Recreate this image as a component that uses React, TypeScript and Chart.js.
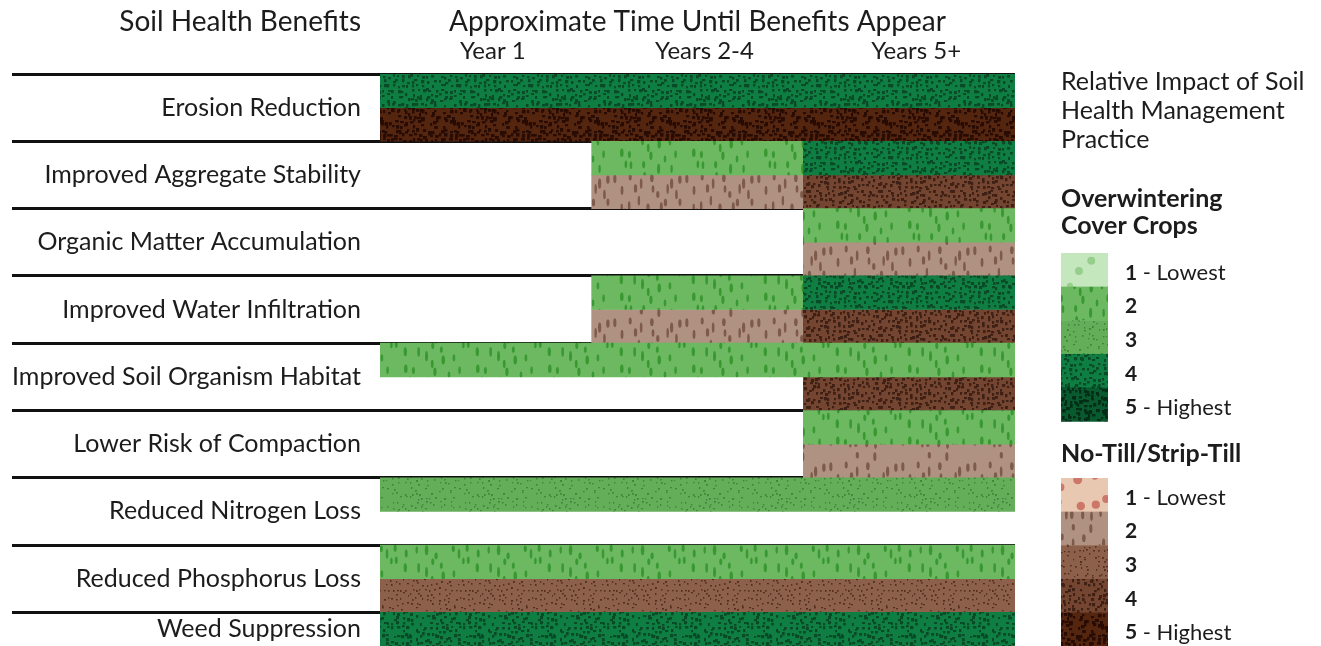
import React, { useEffect, useRef } from 'react';
import { Chart, registerables } from 'chart.js';

Chart.register(...registerables);

// ---------- data ----------
const categories = [
  'Erosion Reduction',
  'Improved Aggregate Stability',
  'Organic Matter Accumulation',
  'Improved Water Infiltration',
  'Improved Soil Organism Habitat',
  'Lower Risk of Compaction',
  'Reduced Nitrogen Loss',
  'Reduced Phosphorus Loss',
  'Weed Suppression',
];
const periods = ['Year 1', 'Years 2-4', 'Years 5+'];
const impactLabels = ['1', '2', '3', '4', '5'];
const impactNotes = [' - Lowest', '', '', '', ' - Highest'];

// [category index, start period, end period (exclusive), impact level 1-5]
const coverCropSegments: number[][] = [
  [0, 0, 3, 4],
  [1, 1, 2, 2], [1, 2, 3, 4],
  [2, 2, 3, 2],
  [3, 1, 2, 2], [3, 2, 3, 4],
  [4, 0, 3, 2],
  [5, 2, 3, 2],
  [6, 0, 3, 3],
  [7, 0, 3, 2],
  [8, 0, 3, 4],
];
const noTillSegments: number[][] = [
  [0, 0, 3, 5],
  [1, 1, 2, 2], [1, 2, 3, 4],
  [2, 2, 3, 2],
  [3, 1, 2, 2], [3, 2, 3, 4],
  [4, 2, 3, 4],
  [5, 2, 3, 2],
  [7, 0, 3, 3],
];

const leftHeading = 'Soil Health Benefits';
const xTitle = 'Approximate Time Until Benefits Appear';
const legendIntro = ['Relative Impact of Soil', 'Health Management', 'Practice'];
const coverCropTitle = ['Overwintering', 'Cover Crops'];
const noTillTitle = ['No-Till/Strip-Till'];

// ---------- styles ----------
const FONT = 'Lato, "Open Sans", sans-serif';
const TEXT = '#1c1c1c';

type PStyle = { base: string; mark: string; kind: string };
const greenStyles: PStyle[] = [
  { base: '#c5e7be', mark: '#95cf8b', kind: 'blob' },
  { base: '#6cb962', mark: '#3a9832', kind: 'dash' },
  { base: '#64ae5a', mark: '#3d8838', kind: 'fine' },
  { base: '#0e7e42', mark: '#0a4a27', kind: 'dots' },
  { base: '#0a5a2f', mark: '#032d16', kind: 'dense' },
];
const brownStyles: PStyle[] = [
  { base: '#e9c8b1', mark: '#cc7767', kind: 'blob' },
  { base: '#b09282', mark: '#7d5a49', kind: 'dash' },
  { base: '#8c604a', mark: '#55301f', kind: 'fine' },
  { base: '#744530', mark: '#3f2015', kind: 'dots' },
  { base: '#55260f', mark: '#280b03', kind: 'dense' },
];

function rng(seed: number) {
  let s = seed >>> 0;
  return () => {
    s = (s + 0x6d2b79f5) >>> 0;
    let t = s;
    t = Math.imul(t ^ (t >>> 15), t | 1);
    t ^= t + Math.imul(t ^ (t >>> 7), t | 61);
    return ((t ^ (t >>> 14)) >>> 0) / 4294967296;
  };
}

function makePattern(ctx: CanvasRenderingContext2D, st: PStyle, seed: number): CanvasPattern {
  const S = 72;
  const c = document.createElement('canvas');
  c.width = S;
  c.height = S;
  const g = c.getContext('2d') as CanvasRenderingContext2D;
  g.fillStyle = st.base;
  g.fillRect(0, 0, S, S);
  g.fillStyle = st.mark;
  const r = rng(seed);
  const wrap = (fn: (dx: number, dy: number) => void) => {
    for (const dx of [-S, 0, S]) for (const dy of [-S, 0, S]) fn(dx, dy);
  };
  if (st.kind === 'fine' || st.kind === 'dots' || st.kind === 'dense') {
    const step = st.kind === 'dense' ? 4.5 : 4.8;
    const size = st.kind === 'dense' ? 3.0 : st.kind === 'dots' ? 2.6 : 1.6;
    const skip = st.kind === 'fine' ? 0.25 : 0.1;
    for (let y = 0; y < S - 0.01; y += step) {
      for (let x = 0; x < S - 0.01; x += step) {
        if (r() < skip) continue;
        const px = x + (r() - 0.5) * step * 0.8;
        const py = y + (r() - 0.5) * step * 0.8;
        const w = size * (0.7 + r() * 0.6);
        const h = size * (0.7 + r() * 0.6);
        wrap((dx, dy) => g.fillRect(Math.round(px + dx), Math.round(py + dy), w, h));
      }
    }
  } else if (st.kind === 'dash') {
    for (let y = 0; y < S; y += 12) {
      for (let x = 0; x < S; x += 9) {
        if (r() < 0.3) continue;
        const px = x + r() * 7;
        const py = y + r() * 8;
        const rx = 1.2 + r() * 0.6;
        const ry = 3.2 + r() * 2;
        wrap((dx, dy) => {
          g.beginPath();
          g.ellipse(px + dx, py + dy, rx, ry, 0, 0, Math.PI * 2);
          g.fill();
        });
      }
    }
  } else {
    for (let y = 0; y < S; y += 18) {
      for (let x = 0; x < S; x += 18) {
        if (r() < 0.2) continue;
        const px = x + r() * 12;
        const py = y + r() * 12;
        const rad = 2.8 + r() * 1.8;
        wrap((dx, dy) => {
          g.beginPath();
          g.arc(px + dx, py + dy, rad, 0, Math.PI * 2);
          g.fill();
        });
      }
    }
  }
  return ctx.createPattern(c, 'repeat') as CanvasPattern;
}

export default function App() {
  const ref = useRef<HTMLCanvasElement | null>(null);

  useEffect(() => {
    document.body.style.overflow = 'hidden';
    const canvas = ref.current;
    if (!canvas) return;
    const ctx0 = canvas.getContext('2d') as CanvasRenderingContext2D;
    const greens = greenStyles.map((s, i) => makePattern(ctx0, s, 101 + i * 17));
    const browns = brownStyles.map((s, i) => makePattern(ctx0, s, 307 + i * 23));

    const toPoints = (segs: number[][], sub: number) =>
      segs.map(([cat, s, e, level]) => ({ x: [s, e], y: cat * 2 + sub + 0.5, level }));

    const labelTicks = categories.map((_, i) => (i === categories.length - 1 ? i * 2 + 0.5 : i * 2 + 1));
    const gridTicks = categories.map((_, i) => i * 2);
    const yMax = categories.length * 2 - 1;

    const sidePlugin = {
      id: 'sidePanel',
      afterDraw(chart: any) {
        const { ctx, chartArea } = chart;
        const unit = (chartArea.bottom - chartArea.top) / yMax;
        ctx.save();
        ctx.fillStyle = TEXT;
        ctx.textBaseline = 'middle';
        // left heading
        ctx.textAlign = 'right';
        ctx.font = `28px ${FONT}`;
        ctx.fillText(leftHeading, chartArea.left - 19, 14);
        // legend
        const lx = chartArea.right + 46;
        ctx.textAlign = 'left';
        ctx.font = `25px ${FONT}`;
        legendIntro.forEach((t, i) => ctx.fillText(t, lx, 74 + i * 29));
        const drawGroup = (title: string[], titleY: number, swTop: number, pats: CanvasPattern[]) => {
          ctx.font = `bold 25px ${FONT}`;
          ctx.fillStyle = TEXT;
          title.forEach((t, i) => ctx.fillText(t, lx, titleY + i * 27));
          pats.forEach((p, i) => {
            ctx.fillStyle = p;
            ctx.fillRect(lx, swTop + i * unit, 47, unit + 0.5);
            ctx.fillStyle = TEXT;
            const ty = swTop + i * unit + unit / 2 + 3;
            ctx.font = `bold 21px ${FONT}`;
            ctx.fillText(impactLabels[i], lx + 64, ty);
            const w = ctx.measureText(impactLabels[i]).width;
            ctx.font = `22px ${FONT}`;
            if (impactNotes[i]) ctx.fillText(impactNotes[i], lx + 64 + w, ty);
          });
        };
        drawGroup(coverCropTitle, 191, 245, greens);
        drawGroup(noTillTitle, 446, 470, browns);
        ctx.restore();
      },
    };

    const chart = new Chart(canvas, {
      type: 'bar',
      data: {
        datasets: [
          {
            label: 'Overwintering Cover Crops',
            data: toPoints(coverCropSegments, 0) as any,
            backgroundColor: (c: any) => greens[(c.raw?.level ?? 1) - 1],
            xAxisID: 'x',
            yAxisID: 'y',
          },
          {
            label: 'No-Till/Strip-Till',
            data: toPoints(noTillSegments, 1) as any,
            backgroundColor: (c: any) => browns[(c.raw?.level ?? 1) - 1],
            xAxisID: 'x',
            yAxisID: 'y',
          },
        ],
      },
      options: {
        indexAxis: 'y',
        animation: false,
        responsive: true,
        maintainAspectRatio: false,
        events: [],
        layout: { padding: { top: 0, right: 298, bottom: 0, left: 0 } },
        datasets: {
          bar: { grouped: false, barPercentage: 1, categoryPercentage: 1, borderWidth: 0 },
        },
        plugins: { legend: { display: false }, tooltip: { enabled: false }, title: { display: false } },
        scales: {
          x: {
            type: 'linear',
            position: 'top',
            min: 0,
            max: periods.length,
            stacked: false,
            offset: false,
            grid: { display: false, drawTicks: false },
            border: { display: false },
            title: {
              display: true,
              text: xTitle,
              color: TEXT,
              font: { family: FONT, size: 28, lineHeight: 1 },
              padding: { top: 0, bottom: 0 },
            },
            ticks: {
              color: TEXT,
              font: { family: FONT, size: 24, lineHeight: 1.2 },
              padding: 8,
              labelOffset: 7,
              autoSkip: false,
              maxRotation: 0,
              callback: (_v: any, i: number) => periods[i],
            },
            afterBuildTicks: (s: any) => {
              s.ticks = periods.map((_, i) => ({ value: i + 0.5 }));
            },
            afterFit: (s: any) => {
              s.height = 66;
              s.paddingLeft = 0;
              s.paddingRight = 0;
            },
          },
          y: {
            type: 'linear',
            position: 'left',
            weight: 10,
            min: 0,
            max: yMax,
            reverse: true,
            offset: false,
            grid: { display: false, drawTicks: false, offset: false },
            border: { display: false },
            ticks: {
              color: TEXT,
              font: { family: FONT, size: 25 },
              padding: 19,
              autoSkip: false,
              callback: (_v: any, i: number) => categories[i],
            },
            afterBuildTicks: (s: any) => {
              s.ticks = labelTicks.map((v) => ({ value: v }));
            },
            afterFit: (s: any) => {
              s.width = 372;
              s.paddingTop = 0;
              s.paddingBottom = 0;
            },
          },
          yGrid: {
            type: 'linear',
            position: 'left',
            axis: 'y',
            weight: 0,
            z: 1,
            min: 0,
            max: yMax,
            reverse: true,
            offset: false,
            border: { display: false },
            grid: { color: '#111', lineWidth: 3, drawTicks: true, tickLength: 368, offset: false },
            ticks: { display: false },
            afterBuildTicks: (s: any) => {
              s.ticks = gridTicks.map((v) => ({ value: v }));
            },
            afterFit: (s: any) => {
              s.width = 0;
              s.paddingTop = 0;
              s.paddingBottom = 0;
            },
          },
        } as any,
      },
      plugins: [sidePlugin],
    } as any);

    return () => chart.destroy();
  }, []);

  return (
    <div style={{ position: 'relative', width: 1305, height: 638 }}>
      <canvas ref={ref} />
    </div>
  );
}
